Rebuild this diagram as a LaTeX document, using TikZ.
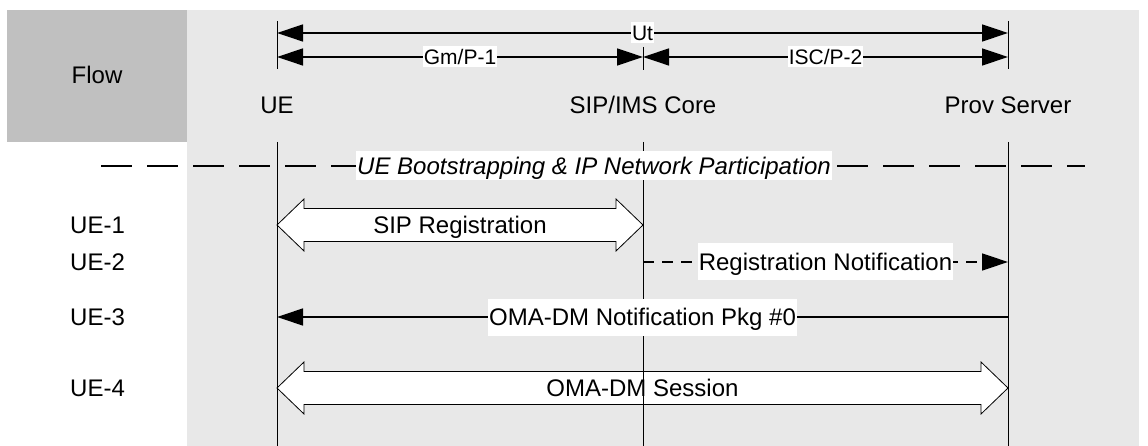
\documentclass[tikz,border=0pt]{standalone}
\usepackage{fontspec}
\setmainfont{Liberation Sans}
\usetikzlibrary{arrows.meta,calc}
\definecolor{flowgray}{RGB}{192,192,192}
\definecolor{lanegray}{RGB}{232,232,232}

\begin{document}
\begin{tikzpicture}[x=1pt,y=-1pt,
    every node/.style={inner sep=1pt,text height=21pt,text depth=4pt},
    font=\fontsize{24}{28}\selectfont,
    tip/.style={-{Triangle[length=26pt,width=17pt]}},
    tips/.style={{Triangle[length=26pt,width=17pt]}-{Triangle[length=26pt,width=17pt]}},
    msg/.style={line width=1.3pt},
    lifeline/.style={line width=0.9pt},
    lbl/.style={fill=white,inner ysep=6pt},
    iflbl/.style={fill=white,inner ysep=0pt,text height=18pt,text depth=3pt,
        font=\fontsize{21}{24}\selectfont},
    fat/.style={draw,fill=white,line width=0.8pt}]
    \useasboundingbox (0,0) rectangle (1148,446);

    % backgrounds
    \fill[lanegray] (187,10) rectangle (1139,446);
    \fill[flowgray] (7,10) rectangle (187,142);
    \node (flow) at (97,75) {Flow};

    % entities
    \node (ue) at (277,105) {UE};
    \node (core) at (643,105) {SIP/IMS Core};
    \node (prov) at (1008,105) {Prov Server};

    % interfaces
    \coordinate (ue-a) at (277,21);
    \coordinate (ue-b) at (277,69);
    \coordinate (core-a) at (643,47);
    \coordinate (core-b) at (643,70);
    \coordinate (prov-a) at (1008,21);
    \coordinate (prov-b) at (1008,69);
    \draw[lifeline] (ue-a) -- (ue-b);
    \draw[lifeline] (core-a) -- (core-b);
    \draw[lifeline] (prov-a) -- (prov-b);
    \coordinate (ut-l) at (277,33);
    \coordinate (ut-r) at (1008,33);
    \coordinate (gm-l) at (277,57);
    \coordinate (gm-r) at (643,57);
    \coordinate (isc-r) at (1008,57);
    \draw[msg,tips] (ut-l) -- node[iflbl] {Ut} (ut-r);
    \draw[msg,tips] (gm-l) -- node[iflbl] {Gm/P-1} (gm-r);
    \draw[msg,tips] (gm-r) -- node[iflbl] {ISC/P-2} (isc-r);

    % flow steps
    \node[anchor=west] (ue1) at (69,225) {UE-1};
    \node[anchor=west] (ue2) at (69,262) {UE-2};
    \node[anchor=west] (ue3) at (69,317) {UE-3};
    \node[anchor=west] (ue4) at (69,388) {UE-4};

    \coordinate (r1l) at (277,225);
    \coordinate (r1r) at (643,225);
    \coordinate (r2l) at (643,262);
    \coordinate (r2r) at (1008,262);
    \coordinate (r3l) at (277,317);
    \coordinate (r3r) at (1008,317);
    \coordinate (r4l) at (277,388);
    \coordinate (r4r) at (1008,388);

    % session arrows
    \draw[fat] (r1l) -- ++(27,-26) -- ++(0,9.5) -- ($(r1r)+(-27,-16.5)$) -- ++(0,-9.5)
        -- (r1r) -- ++(-27,26) -- ++(0,-9.5) -- ($(r1l)+(27,16.5)$) -- ++(0,9.5) -- cycle;
    \node (sipreg) at ($(r1l)!0.5!(r1r)$) {SIP Registration};
    \draw[fat] (r4l) -- ++(27,-26) -- ++(0,9.5) -- ($(r4r)+(-27,-16.5)$) -- ++(0,-9.5)
        -- (r4r) -- ++(-27,26) -- ++(0,-9.5) -- ($(r4l)+(27,16.5)$) -- ++(0,9.5) -- cycle;
    \node (omasess) at ($(r4l)!0.5!(r4r)$) {OMA-DM Session};

    % lifelines
    \coordinate (ue-t) at (277,142);
    \coordinate (ue-e) at (277,446);
    \coordinate (core-t) at (643,142);
    \coordinate (core-e) at (643,446);
    \coordinate (prov-t) at (1008,142);
    \coordinate (prov-e) at (1008,446);
    \draw[lifeline] (ue-t) -- (ue-e);
    \draw[lifeline] (core-t) -- (core-e);
    \draw[lifeline] (prov-t) -- (prov-e);

    % phase separator
    \coordinate (sep-l) at (101,166);
    \coordinate (sep-r) at (1085,166);
    \draw[msg,dash pattern=on 31pt off 15pt] (sep-l) -- (sep-r);
    \node[fill=white,inner ysep=2pt,font=\fontsize{24}{28}\selectfont\itshape] (phase) at (594,166)
        {UE Bootstrapping \& IP Network Participation};

    % messages
    \draw[msg,tip,dash pattern=on 11pt off 8pt] (r2l) -- node[lbl] {Registration Notification} (r2r);
    \draw[msg,tip] (r3r) -- node[lbl] {OMA-DM Notification Pkg \#0} (r3l);
\end{tikzpicture}
\end{document}
